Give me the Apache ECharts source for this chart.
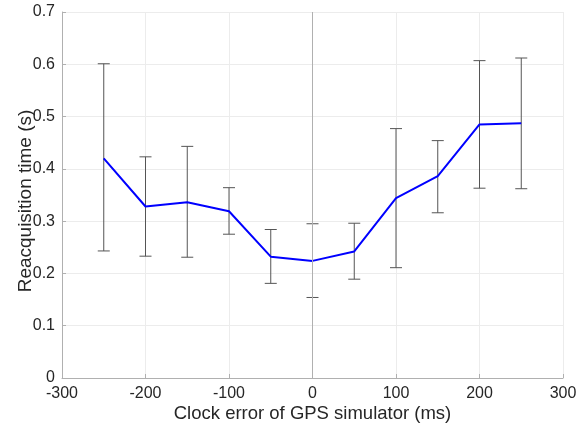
<!DOCTYPE html>
<html><head><meta charset="utf-8">
<script src="https://cdn.jsdelivr.net/npm/echarts@6/dist/echarts.min.js"></script>
<style>html,body{margin:0;padding:0;background:#fff}#c{width:588px;height:430px}</style>
</head><body><div id="c"></div>
<script>
const clockErr = [-250, -200, -150, -100, -50, 0, 50, 100, 150, 200, 250];
const meanTime = [0.420, 0.328, 0.336, 0.319, 0.232, 0.224, 0.242, 0.344, 0.386, 0.485, 0.487];
const lowerTime = [0.243, 0.233, 0.231, 0.275, 0.181, 0.154, 0.189, 0.211, 0.316, 0.363, 0.362];
const upperTime = [0.601, 0.423, 0.443, 0.364, 0.284, 0.295, 0.296, 0.477, 0.454, 0.607, 0.612];
const xTicks = [-300, -200, -100, 0, 100, 200, 300];
const yTicks = [0, 0.1, 0.2, 0.3, 0.4, 0.5, 0.6, 0.7];

const chart = echarts.init(document.getElementById('c'), null, {renderer: 'canvas'});
const font = 'Liberation Sans, Arial, sans-serif';
const errData = clockErr.map((x, i) => [x, lowerTime[i], upperTime[i]]);
chart.setOption({
  animation: false,
  grid: {left: 62, right: 25, top: 12, bottom: 52, containLabel: false, outerBoundsMode: 'none'},
  xAxis: {
    type: 'value', min: -300, max: 300, interval: 100,
    name: 'Clock error of GPS simulator (ms)', nameLocation: 'middle', nameGap: 26, nameMoveOverlap: false,
    nameTextStyle: {fontFamily: font, fontSize: 18.5, color: '#262626'},
    axisLine: {show: true, onZero: false, lineStyle: {color: '#b0b0b0', width: 1}},
    axisTick: {show: true, inside: true, length: 4, lineStyle: {color: '#b0b0b0'}},
    axisLabel: {fontFamily: font, fontSize: 16, color: '#262626', margin: 8,
      formatter: v => xTicks.includes(Math.round(v)) ? String(Math.round(v)) : ''},
    splitLine: {show: true, lineStyle: {color: '#ececec', width: 1}}
  },
  yAxis: {
    type: 'value', min: 0, max: 0.7, interval: 0.1,
    name: 'Reacquisition time (s)', nameLocation: 'middle', nameGap: 27, nameMoveOverlap: false,
    nameTextStyle: {fontFamily: font, fontSize: 19, color: '#262626', padding: [0, 12, 0, 0]},
    axisLine: {show: true, onZero: false, lineStyle: {color: '#b0b0b0', width: 1}},
    axisTick: {show: true, inside: true, length: 4, lineStyle: {color: '#b0b0b0'}},
    axisLabel: {fontFamily: font, fontSize: 16, color: '#262626', margin: 7,
      formatter: v => yTicks.includes(+v.toFixed(1)) ? String(+v.toFixed(1)) : ''},
    splitLine: {show: true, lineStyle: {color: '#ececec', width: 1}}
  },
  series: [
    {
      type: 'line', data: clockErr.map((x, i) => [x, meanTime[i]]),
      showSymbol: false, symbol: 'none', z: 3,
      lineStyle: {color: '#0000ff', width: 2},
      markLine: {silent: true, symbol: 'none', label: {show: false},
        lineStyle: {color: '#b0b0b0', width: 1, type: 'solid'},
        data: [{xAxis: 0}]}
    },
    {
      type: 'custom', data: errData, z: 2,
      renderItem: (params, api) => {
        const x = api.value(0);
        const lo = api.coord([x, api.value(1)]);
        const hi = api.coord([x, api.value(2)]);
        const w = 6;
        const st = {stroke: '#555555', lineWidth: 1};
        return {type: 'group', children: [
          {type: 'line', shape: {x1: lo[0], y1: lo[1], x2: hi[0], y2: hi[1]}, style: st},
          {type: 'line', shape: {x1: lo[0]-w, y1: lo[1], x2: lo[0]+w, y2: lo[1]}, style: st},
          {type: 'line', shape: {x1: hi[0]-w, y1: hi[1], x2: hi[0]+w, y2: hi[1]}, style: st}
        ]};
      }
    }
  ]
});
</script></body></html>
